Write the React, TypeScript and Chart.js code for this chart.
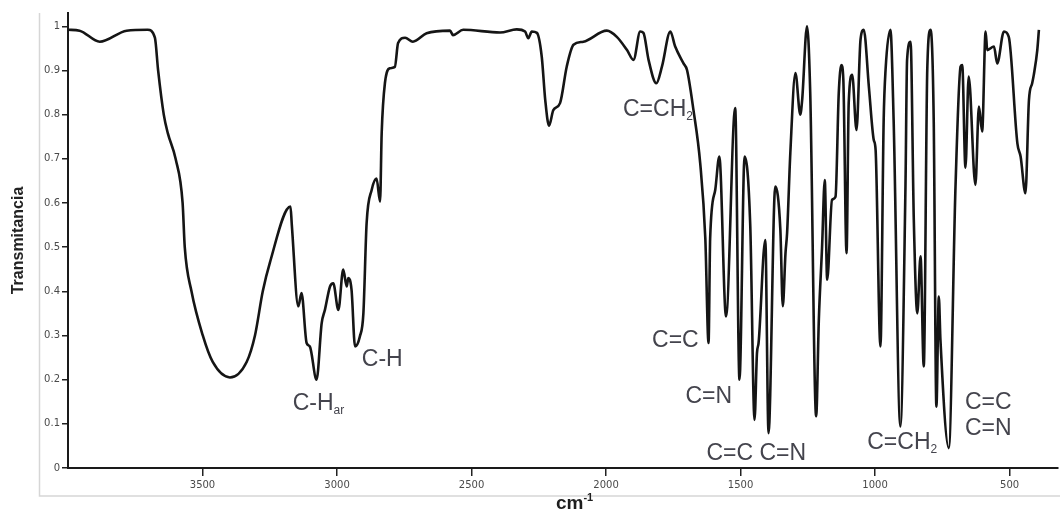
import React, { useEffect, useRef } from "react";
import { Chart, registerables } from "chart.js";

Chart.register(...registerables);

// Wavenumber (cm-1) and transmittance
const wavenumbers = [
  4000, 3957, 3882, 3782, 3704, 3677, 3665, 3644, 3629, 3600, 3574, 3566, 3541, 3499, 3462, 3398,
  3336, 3305, 3276, 3250, 3173, 3168, 3144, 3132, 3113, 3101, 3076, 3057, 3045, 3026, 3014, 2995,
  2977, 2964, 2958, 2946, 2933, 2915, 2902, 2890, 2871, 2853, 2840, 2834, 2822, 2803, 2785, 2773,
  2747, 2718, 2667, 2580, 2569, 2531, 2394, 2332, 2301, 2289, 2276, 2257, 2239, 2226, 2212, 2196,
  2171, 2146, 2121, 2084, 1997, 1960, 1922, 1898, 1873, 1861, 1842, 1813, 1792, 1761, 1743, 1712,
  1699, 1675, 1650, 1631, 1619, 1613, 1594, 1579, 1554, 1520, 1504, 1485, 1464, 1448, 1439, 1433,
  1408, 1396, 1371, 1352, 1343, 1333, 1327, 1315, 1296, 1278, 1271, 1253, 1241, 1219, 1209, 1197,
  1187, 1178, 1160, 1147, 1135, 1125, 1118, 1106, 1098, 1085, 1069, 1054, 1042, 1023, 1005, 998,
  980, 968, 961, 943, 931, 906, 887, 881, 868, 856, 843, 831, 819, 806, 794, 782,
  772, 763, 757, 726, 701, 682, 676, 664, 652, 627, 614, 602, 589, 583, 558, 546,
  521, 503, 471, 459, 441, 428, 416, 410, 397, 391,
];

const transmittance = [
  0.992, 0.99, 0.965, 0.99, 0.992, 0.974, 0.9, 0.8, 0.758, 0.7, 0.6, 0.5, 0.4, 0.3, 0.24, 0.205,
  0.24, 0.3, 0.4, 0.464, 0.592, 0.55, 0.366, 0.396, 0.283, 0.275, 0.2, 0.328, 0.358, 0.411, 0.418, 0.358,
  0.449, 0.411, 0.43, 0.403, 0.275, 0.298, 0.35, 0.554, 0.63, 0.655, 0.603, 0.758, 0.871, 0.905, 0.908, 0.962,
  0.974, 0.965, 0.984, 0.99, 0.98, 0.992, 0.986, 0.993, 0.988, 0.973, 0.988, 0.985, 0.931, 0.833, 0.775, 0.81,
  0.826, 0.909, 0.958, 0.965, 0.99, 0.976, 0.946, 0.924, 0.988, 0.985, 0.924, 0.871, 0.909, 0.988, 0.954, 0.916,
  0.901, 0.81, 0.69, 0.52, 0.283, 0.52, 0.63, 0.705, 0.343, 0.815, 0.2, 0.705, 0.55, 0.109, 0.26, 0.283,
  0.516, 0.079, 0.637, 0.539, 0.366, 0.486, 0.532, 0.713, 0.894, 0.8, 0.833, 1.0, 0.849, 0.117, 0.336, 0.5,
  0.652, 0.426, 0.607, 0.614, 0.848, 0.912, 0.88, 0.486, 0.826, 0.89, 0.765, 0.97, 0.992, 0.863, 0.743, 0.72,
  0.275, 0.788, 0.901, 0.992, 0.788, 0.094, 0.637, 0.924, 0.965, 0.562, 0.35, 0.479, 0.23, 0.901, 0.992, 0.788,
  0.139, 0.388, 0.29, 0.045, 0.637, 0.909, 0.912, 0.68, 0.886, 0.641, 0.818, 0.762, 0.988, 0.946, 0.954, 0.916,
  0.988, 0.976, 0.735, 0.705, 0.622, 0.833, 0.871, 0.89, 0.946, 0.992,
];

const xTickValues = [3500, 3000, 2500, 2000, 1500, 1000, 500];
const yTickValues = [0, 0.1, 0.2, 0.3, 0.4, 0.5, 0.6, 0.7, 0.8, 0.9, 1];

// Band assignment labels (text, subscript, anchor wavenumber, anchor transmittance)
const labelTexts = ["C-H", "C-H", "C=CH", "C=C", "C=N", "C=C C=N", "C=CH", "C=C", "C=N"];
const labelSubs = ["ar", "", "2", "", "", "", "2", "", ""];
const labelWn = [3165, 2908, 1937, 1829, 1705, 1627, 1029, 666, 666];
const labelT = [0.132, 0.23, 0.797, 0.275, 0.147, 0.019, 0.042, 0.133, 0.075];

const FONT = '"Liberation Sans", Arial, sans-serif';

const decorPlugin = {
  id: "decor",
  beforeDraw(chart: any) {
    const { ctx, chartArea } = chart;
    ctx.save();
    ctx.fillStyle = "#ffffff";
    ctx.fillRect(0, 0, chart.width, chart.height);
    ctx.strokeStyle = "#d6d6d6";
    ctx.lineWidth = 1.5;
    const fl = chartArea.left - 28.5;
    const fb = chartArea.bottom + 28;
    ctx.beginPath();
    ctx.moveTo(fl, chartArea.top);
    ctx.lineTo(fl, fb);
    ctx.lineTo(chart.width, fb);
    ctx.stroke();
    ctx.restore();
  },
  afterDraw(chart: any) {
    const { ctx, chartArea } = chart;
    const xs = chart.scales.x;
    const ys = chart.scales.y;
    ctx.save();
    ctx.textAlign = "left";
    ctx.textBaseline = "alphabetic";
    ctx.fillStyle = "#44444d";
    labelTexts.forEach((t, i) => {
      const px = xs.getPixelForValue(labelWn[i]);
      const py = ys.getPixelForValue(labelT[i]);
      ctx.font = `23px ${FONT}`;
      ctx.fillText(t, px, py);
      if (labelSubs[i]) {
        const w = ctx.measureText(t).width;
        ctx.font = `12px ${FONT}`;
        ctx.fillText(labelSubs[i], px + w, py + 4);
      }
    });
    // x-axis title: cm^-1
    const cx = (chartArea.left + chartArea.right) / 2 - 7;
    ctx.fillStyle = "#1e1e1e";
    ctx.font = `bold 19px ${FONT}`;
    ctx.fillText("cm", cx, chart.height - 1);
    const w = ctx.measureText("cm").width;
    ctx.font = `bold 11px ${FONT}`;
    ctx.fillText("-1", cx + w, chart.height - 9);
    ctx.restore();
  },
};

export default function App() {
  const canvasRef = useRef<HTMLCanvasElement | null>(null);

  useEffect(() => {
    if (!canvasRef.current) return;
    const points = wavenumbers.map((w, i) => ({ x: w, y: transmittance[i] }));
    const chart = new Chart(canvasRef.current, {
      type: "line",
      data: {
        datasets: [
          {
            data: points,
            borderColor: "#151515",
            borderWidth: 2.6,
            pointRadius: 0,
            cubicInterpolationMode: "monotone",
            fill: false,
          } as any,
        ],
      },
      plugins: [decorPlugin],
      options: {
        animation: false,
        responsive: false,
        devicePixelRatio: 1,
        parsing: false as any,
        layout: { padding: { top: 13, right: 2, left: 0, bottom: 0 } },
        plugins: { legend: { display: false }, tooltip: { enabled: false } },
        scales: {
          x: {
            type: "linear",
            reverse: true,
            min: 320,
            max: 4000,
            afterBuildTicks: (scale: any) => {
              scale.ticks = xTickValues.map((v) => ({ value: v }));
            },
            afterFit: (scale: any) => {
              scale.height = 42;
            },
            ticks: {
              callback: (v: any) => String(v),
              font: { family: "DejaVu Sans", size: 10 },
              color: "#4a4a4a",
              padding: 3,
              maxRotation: 0,
            },
            grid: {
              drawOnChartArea: false,
              drawTicks: true,
              tickLength: 8,
              color: "#222222",
              lineWidth: 1.5,
            },
            border: { display: true, color: "#1a1a1a", width: 2 },
          },
          y: {
            type: "linear",
            min: 0,
            max: 1.03,
            afterBuildTicks: (scale: any) => {
              scale.ticks = yTickValues.map((v) => ({ value: v }));
            },
            afterFit: (scale: any) => {
              scale.width = 68;
            },
            ticks: {
              callback: (v: any) => String(v),
              font: { family: "DejaVu Sans", size: 10 },
              color: "#4a4a4a",
              padding: 2,
            },
            grid: {
              drawOnChartArea: false,
              drawTicks: true,
              tickLength: 6,
              color: "#222222",
              lineWidth: 1.5,
            },
            border: { display: true, color: "#1a1a1a", width: 2 },
            title: {
              display: true,
              text: "Transmitancia",
              color: "#222222",
              font: { family: "Liberation Sans", size: 16, weight: "bold" },
              padding: { top: 9, bottom: 0 },
            },
          },
        },
      },
    });
    return () => chart.destroy();
  }, []);

  return (
    <div style={{ position: "fixed", left: 0, top: 0, width: 1060, height: 510, background: "#fff" }}>
      <canvas ref={canvasRef} width={1060} height={510} style={{ display: "block" }} />
    </div>
  );
}
